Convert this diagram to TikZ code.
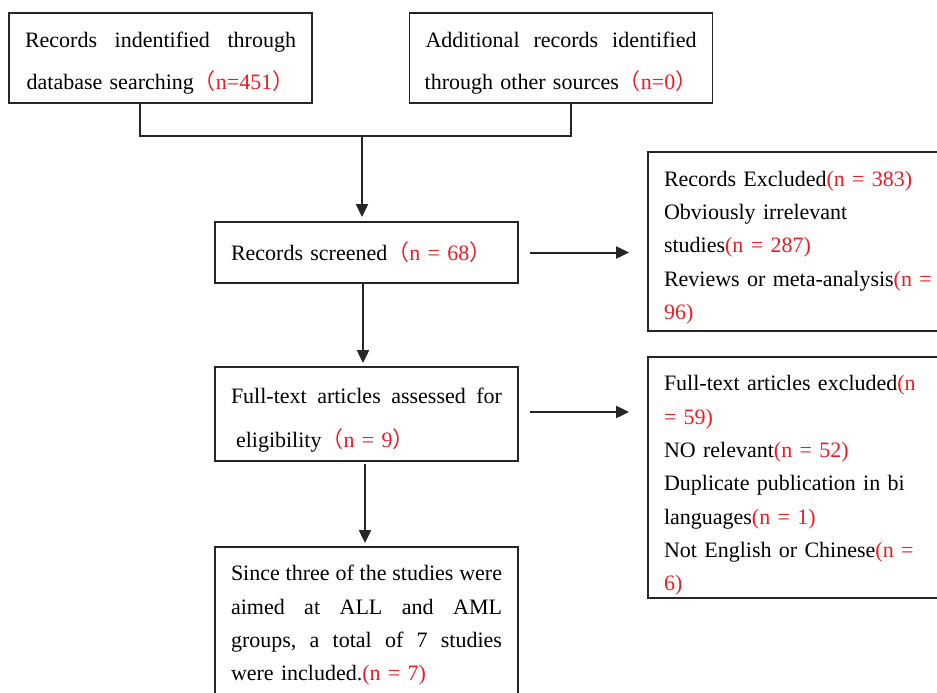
\documentclass[tikz,border=0pt]{standalone}
\usepackage{fontspec}
\setmainfont{Liberation Serif}
\newfontfamily\cjk{Noto Sans CJK SC}
\usepackage{xcolor}
\usetikzlibrary{arrows.meta}
\definecolor{numred}{RGB}{235,28,36}
\newcommand{\nr}[1]{\textcolor{numred}{#1}}
\newcommand{\fw}[1]{\textcolor{numred}{{\cjk （}#1{\cjk ）}}}
\newcommand{\spread}[1]{\makebox[271pt][l]{#1}}

\begin{document}
\begin{tikzpicture}[x=1pt,y=-1pt,
    box/.style={draw=black!85,line width=1.8pt,inner sep=0pt,minimum width=303pt},
    txt/.style={inner sep=0pt,text width=271pt,align=left,font=\fontsize{22}{33.3}\selectfont},
    wide/.style={font=\fontsize{22}{42}\selectfont},
    link/.style={draw=black!85,line width=2pt},
    flow/.style={link,-{Triangle[length=13pt,width=12pt]}}]
    \useasboundingbox (0,0) rectangle (937,693);
    \clip (0,0) rectangle (937,693);
    % identification
    \node[box,minimum height=90pt] at (160.5,58) (ident) {};
    \node[txt,wide] at ([yshift=-5pt]ident.center) (identtxt) {\spread{Records\hfill indentified\hfill through}\\\makebox[271pt][c]{database searching\fw{n=451}}};
    \node[box,minimum height=90pt] at (561,58) (other) {};
    \node[txt,wide] at ([yshift=-5pt]other.center) (othertxt) {\spread{Additional\hfill records\hfill identified}\\\makebox[271pt][c]{through other sources\fw{n=0}}};
    % screening
    \node[box,minimum height=61pt] at (366.5,252.5) (screen) {};
    \node[txt] at (screen.center) (screentxt) {Records screened\fw{n = 68}};
    \node[box,minimum height=179pt] at (799.5,241.5) (excl) {};
    \node[txt] at ([yshift=-6pt]excl.center) (excltxt) {Records Excluded\nr{(n = 383)}\\Obviously irrelevant\\studies\nr{(n = 287)}\\Reviews or meta-analysis\nr{(n =}\\\nr{96)}};
    % eligibility
    \node[box,minimum height=94pt] at (366.5,414) (assess) {};
    \node[txt,font=\fontsize{22}{44}\selectfont] at ([yshift=-6pt]assess.center) (assesstxt) {\spread{Full-text\hfill articles\hfill assessed\hfill for}\\\hspace*{5pt}eligibility\fw{n = 9}};
    \node[box,minimum height=241pt] at (799.5,477.5) (drop) {};
    \node[txt] at ([yshift=-8pt]drop.center) (droptxt) {Full-text articles excluded\nr{(n}\\\nr{= 59)}\\NO relevant\nr{(n = 52)}\\Duplicate publication in bi\\languages\nr{(n = 1)}\\Not English or Chinese\nr{(n =}\\\nr{6)}};
    % included
    \node[box,minimum height=153pt] at (366.5,623.5) (incl) {};
    \node[txt] at ([yshift=-2pt]incl.center) (incltxt) {\spread{Since\hfill three\hfill of\hfill the\hfill studies\hfill were}\\\spread{aimed\hfill at\hfill ALL\hfill and\hfill AML}\\\spread{groups,\hfill a\hfill total\hfill of\hfill 7\hfill studies}\\were included.\nr{(n = 7)}};
    \coordinate (merge) at (362,135);
    \draw[link] ([xshift=-20.5pt]ident.south) -- ++(0,32) -| ([xshift=10pt]other.south);
    \draw[flow,shorten >=4pt] (merge) -- (merge |- screen.north);
    \draw[flow,shorten <=11pt,shorten >=18pt] (screen.east) -- (screen.east -| excl.west);
    \draw[flow,shorten >=3pt] ([xshift=-3.5pt]screen.south) -- ([xshift=-3.5pt]screen.south |- assess.north);
    \draw[flow,shorten <=11pt,shorten >=18pt] ([yshift=2pt]assess.east) -- ([yshift=2pt]assess.east -| drop.west);
    \draw[flow,shorten <=2pt,shorten >=3pt] ([xshift=-1.5pt]assess.south) -- ([xshift=-1.5pt]assess.south |- incl.north);
\end{tikzpicture}
\end{document}
